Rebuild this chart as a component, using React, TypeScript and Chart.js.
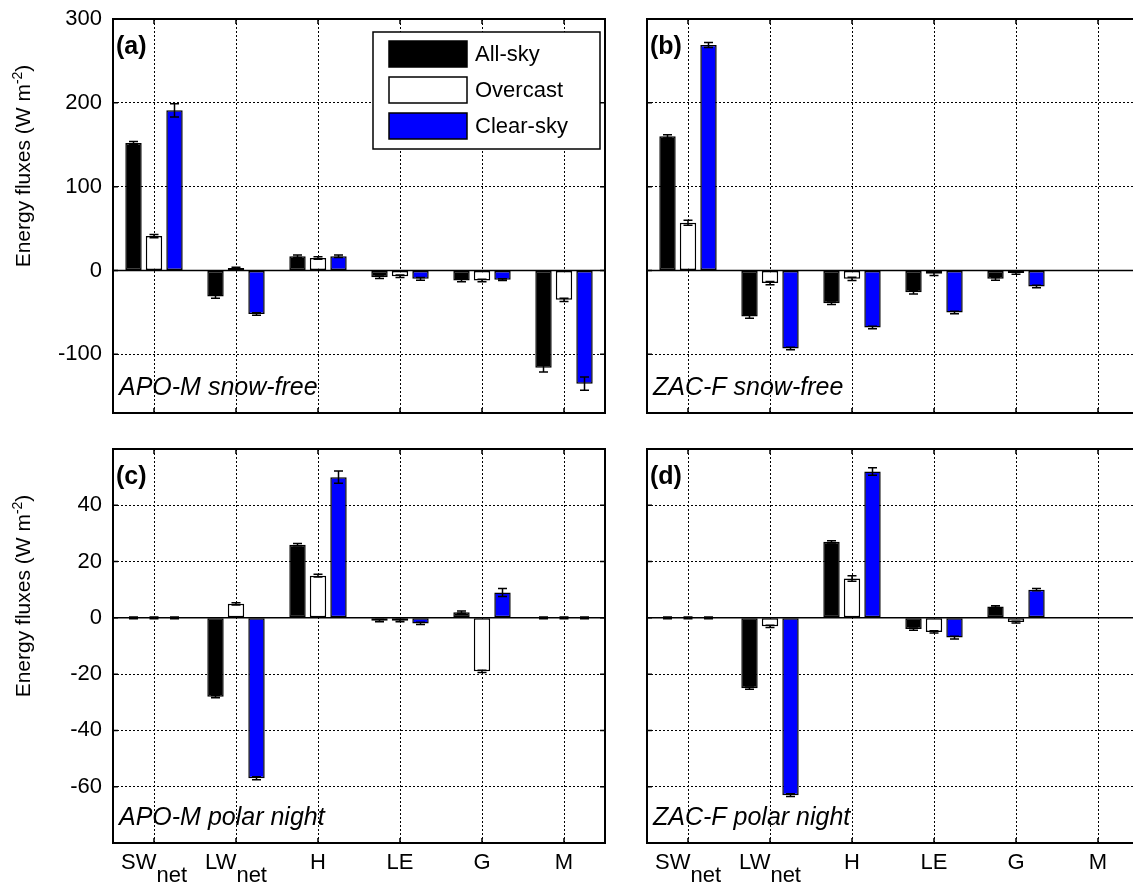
import React, { useEffect, useRef } from "react";
import { Chart, registerables } from "chart.js";

Chart.register(...registerables);

const FONT = "'Liberation Sans', Arial, Helvetica, sans-serif";

// ---------- data ----------
const categories = ["SW", "LW", "H", "LE", "G", "M"];
const categorySubs = ["net", "net", "", "", "", ""];
const seriesNames = ["All-sky", "Overcast", "Clear-sky"];
const seriesColors = ["#000000", "#ffffff", "#0000ff"];

const snowTicks = [-100, 0, 100, 200, 300];
const nightTicks = [-60, -40, -20, 0, 20, 40];

// (a) APO-M snow-free
const apoSnowAll = [152, -31, 17, -8, -12, -116];
const apoSnowOver = [41, 3, 15, -7, -12, -35];
const apoSnowClear = [191, -52, 17, -10, -11, -135];
const apoSnowAllErr = [2, 2, 1.5, 1.5, 1.5, 5];
const apoSnowOverErr = [2, 1, 1.5, 1.5, 1.5, 2];
const apoSnowClearErr = [8, 1.5, 1.5, 1.5, 1, 8];

// (b) ZAC-F snow-free
const zacSnowAll = [160, -55, -39, -26, -10, 0];
const zacSnowOver = [57, -15, -10, -4, -3, 0];
const zacSnowClear = [269, -93, -68, -50, -19, 0];
const zacSnowAllErr = [2, 2, 1.5, 2, 1.5, 0];
const zacSnowOverErr = [3, 2, 2, 2, 1.5, 0];
const zacSnowClearErr = [3, 1.5, 1.5, 1.5, 1.5, 0];

// (c) APO-M polar night
const apoNightAll = [0, -28, 26, -1, 2, 0];
const apoNightOver = [0, 5, 15, -1, -19, 0];
const apoNightClear = [0, -57, 50, -2, 9, 0];
const apoNightAllErr = [0.3, 0.4, 0.4, 0.4, 0.4, 0.3];
const apoNightOverErr = [0.3, 0.4, 0.5, 0.4, 0.4, 0.3];
const apoNightClearErr = [0.3, 0.5, 2.2, 0.4, 1.4, 0.3];

// (d) ZAC-F polar night
const zacNightAll = [0, -25, 27, -4, 4, 0];
const zacNightOver = [0, -3, 14, -5, -1.5, 0];
const zacNightClear = [0, -63, 52, -7, 10, 0];
const zacNightAllErr = [0.3, 0.4, 0.4, 0.4, 0.3, 0];
const zacNightOverErr = [0.3, 0.4, 1, 0.4, 0.3, 0];
const zacNightClearErr = [0.3, 0.5, 1.3, 0.5, 0.4, 0];

type PanelProps = {
  left: number;
  top: number;
  width: number;
  height: number;
  values: number[][];
  errors: number[][];
  yMin: number;
  yMax: number;
  yTicks: number[];
  letter: string;
  site: string;
  showYLabels: boolean;
  showXLabels: boolean;
  showLegend: boolean;
};

function makeDecor(p: PanelProps) {
  return {
    id: "decor" + p.letter.replace(/[()]/g, ""),
    afterDatasetsDraw(chart: any) {
      const ctx = chart.ctx as CanvasRenderingContext2D;
      const area = chart.chartArea;
      const xs = chart.scales.x;
      const ys = chart.scales.y;
      ctx.save();
      // zero line
      const y0 = ys.getPixelForValue(0);
      ctx.strokeStyle = "#000";
      ctx.lineWidth = 1.5;
      ctx.beginPath();
      ctx.moveTo(area.left, y0);
      ctx.lineTo(area.right, y0);
      ctx.stroke();

      // error bars
      ctx.lineWidth = 1.5;
      p.values.forEach((vals, d) => {
        const meta = chart.getDatasetMeta(d);
        vals.forEach((v, j) => {
          const e = p.errors[d][j];
          if (!(e > 0)) return;
          const x = meta.data[j].x;
          const ya = ys.getPixelForValue(v - e);
          const yb = ys.getPixelForValue(v + e);
          ctx.beginPath();
          ctx.moveTo(x, ya);
          ctx.lineTo(x, yb);
          ctx.moveTo(x - 4.5, ya);
          ctx.lineTo(x + 4.5, ya);
          ctx.moveTo(x - 4.5, yb);
          ctx.lineTo(x + 4.5, yb);
          ctx.stroke();
        });
      });

      // inward ticks
      ctx.lineWidth = 1.5;
      ctx.beginPath();
      categories.forEach((_, i) => {
        const x = xs.getPixelForValue(i);
        ctx.moveTo(x, area.top);
        ctx.lineTo(x, area.top + 5);
        ctx.moveTo(x, area.bottom);
        ctx.lineTo(x, area.bottom - 5);
      });
      p.yTicks.forEach((v) => {
        const y = ys.getPixelForValue(v);
        ctx.moveTo(area.left, y);
        ctx.lineTo(area.left + 5, y);
        ctx.moveTo(area.right, y);
        ctx.lineTo(area.right - 5, y);
      });
      ctx.stroke();

      // box
      ctx.lineWidth = 2;
      ctx.strokeRect(area.left, area.top, area.right - area.left, area.bottom - area.top);

      // panel letter
      ctx.fillStyle = "#000";
      ctx.textBaseline = "alphabetic";
      ctx.textAlign = "left";
      ctx.font = `bold 25px ${FONT}`;
      ctx.fillText(p.letter, area.left + 3, area.top + 35);

      // site label
      ctx.font = `italic 25px ${FONT}`;
      ctx.fillText(p.site, area.left + 6, area.bottom - 18);

      // legend
      if (p.showLegend) {
        const bx = 373;
        const by = 32;
        const bw = 227;
        const bh = 117;
        ctx.fillStyle = "#fff";
        ctx.fillRect(bx, by, bw, bh);
        ctx.lineWidth = 1.5;
        ctx.strokeStyle = "#000";
        ctx.strokeRect(bx, by, bw, bh);
        seriesNames.forEach((name, i) => {
          const sy = by + 9 + i * 36;
          ctx.fillStyle = seriesColors[i];
          ctx.fillRect(389, sy, 78, 26);
          ctx.strokeStyle = "#000";
          ctx.lineWidth = 1.5;
          ctx.strokeRect(389, sy, 78, 26);
          ctx.fillStyle = "#000";
          ctx.font = `22px ${FONT}`;
          ctx.textBaseline = "middle";
          ctx.fillText(name, 475, sy + 14);
        });
        ctx.textBaseline = "alphabetic";
      }

      // x labels
      if (p.showXLabels) {
        ctx.fillStyle = "#000";
        categories.forEach((c, i) => {
          const x = xs.getPixelForValue(i);
          ctx.font = `22px ${FONT}`;
          const w1 = ctx.measureText(c).width;
          const sub = categorySubs[i];
          const w2 = sub ? ctx.measureText(sub).width : 0;
          const start = x - (w1 + w2) / 2;
          ctx.textAlign = "left";
          ctx.fillText(c, start, area.bottom + 26);
          if (sub) {
            ctx.fillText(sub, start + w1, area.bottom + 39);
          }
        });
      }

      // y title
      if (p.showYLabels) {
        const cy = (area.top + area.bottom) / 2 - 50;
        ctx.translate(22, cy);
        ctx.rotate(-Math.PI / 2);
        const t1 = "Energy fluxes (W m";
        const t2 = "-2";
        const t3 = ")";
        ctx.font = `21px ${FONT}`;
        const w1 = ctx.measureText(t1).width;
        const w3 = ctx.measureText(t3).width;
        ctx.font = `14px ${FONT}`;
        const w2 = ctx.measureText(t2).width;
        const total = w1 + w2 + w3;
        let xx = -total / 2;
        ctx.textAlign = "left";
        ctx.fillStyle = "#000";
        ctx.font = `21px ${FONT}`;
        ctx.fillText(t1, xx, 8);
        xx += w1;
        ctx.font = `14px ${FONT}`;
        ctx.fillText(t2, xx, 0);
        xx += w2;
        ctx.font = `21px ${FONT}`;
        ctx.fillText(t3, xx, 8);
      }
      ctx.restore();
    },
  };
}

function Panel(p: PanelProps) {
  const ref = useRef<HTMLCanvasElement | null>(null);
  useEffect(() => {
    if (!ref.current) return;
    const chart = new Chart(ref.current, {
      type: "bar",
      data: {
        labels: categories.map((c, i) => c + categorySubs[i]),
        datasets: seriesNames.map((name, d) => ({
          label: name,
          data: p.values[d],
          backgroundColor: seriesColors[d],
          borderColor: "#000",
          borderWidth: 1.5,
          borderSkipped: false,
          categoryPercentage: 0.75,
          barPercentage: 0.8,
        })),
      },
      options: {
        animation: false,
        responsive: false,
        maintainAspectRatio: false,
        layout: { padding: { top: 19, right: p.width - 605, left: 0, bottom: 0 } },
        plugins: { legend: { display: false }, tooltip: { enabled: false } },
        scales: {
          x: {
            type: "category",
            offset: true,
            grid: { offset: false, color: "#000", lineWidth: 1, drawTicks: false },
            border: { display: false, dash: [2, 2] },
            ticks: { display: false },
            afterFit: (s: any) => {
              s.height = p.height - 413;
              s.paddingLeft = 0;
              s.paddingRight = 0;
            },
          },
          y: {
            type: "linear",
            min: p.yMin,
            max: p.yMax,
            afterBuildTicks: (s: any) => {
              s.ticks = p.yTicks.map((v) => ({ value: v }));
            },
            grid: { color: "#000", lineWidth: 1, drawTicks: false },
            border: { display: false, dash: [2, 2] },
            ticks: {
              display: p.showYLabels,
              color: "#000",
              font: { family: FONT, size: 22 },
              padding: 11,
            },
            afterFit: (s: any) => {
              s.width = 113;
              s.paddingTop = 0;
              s.paddingBottom = 0;
            },
          },
        },
      } as any,
      plugins: [makeDecor(p)],
    });
    return () => chart.destroy();
  }, []);
  return (
    <canvas
      ref={ref}
      width={p.width}
      height={p.height}
      style={{ position: "absolute", left: p.left, top: p.top, width: p.width, height: p.height }}
    />
  );
}

export default function App() {
  return (
    <div
      style={{
        position: "absolute",
        left: 0,
        top: 0,
        width: 1133,
        height: 885,
        overflow: "hidden",
        background: "#fff",
      }}
    >
      <Panel
        left={0}
        top={0}
        width={620}
        height={430}
        values={[apoSnowAll, apoSnowOver, apoSnowClear]}
        errors={[apoSnowAllErr, apoSnowOverErr, apoSnowClearErr]}
        yMin={-170}
        yMax={300}
        yTicks={snowTicks}
        letter="(a)"
        site="APO-M snow-free"
        showYLabels={true}
        showXLabels={false}
        showLegend={true}
      />
      <Panel
        left={534}
        top={0}
        width={620}
        height={430}
        values={[zacSnowAll, zacSnowOver, zacSnowClear]}
        errors={[zacSnowAllErr, zacSnowOverErr, zacSnowClearErr]}
        yMin={-170}
        yMax={300}
        yTicks={snowTicks}
        letter="(b)"
        site="ZAC-F snow-free"
        showYLabels={false}
        showXLabels={false}
        showLegend={false}
      />
      <Panel
        left={0}
        top={430}
        width={620}
        height={455}
        values={[apoNightAll, apoNightOver, apoNightClear]}
        errors={[apoNightAllErr, apoNightOverErr, apoNightClearErr]}
        yMin={-80}
        yMax={60}
        yTicks={nightTicks}
        letter="(c)"
        site="APO-M polar night"
        showYLabels={true}
        showXLabels={true}
        showLegend={false}
      />
      <Panel
        left={534}
        top={430}
        width={620}
        height={455}
        values={[zacNightAll, zacNightOver, zacNightClear]}
        errors={[zacNightAllErr, zacNightOverErr, zacNightClearErr]}
        yMin={-80}
        yMax={60}
        yTicks={nightTicks}
        letter="(d)"
        site="ZAC-F polar night"
        showYLabels={false}
        showXLabels={true}
        showLegend={false}
      />
    </div>
  );
}
